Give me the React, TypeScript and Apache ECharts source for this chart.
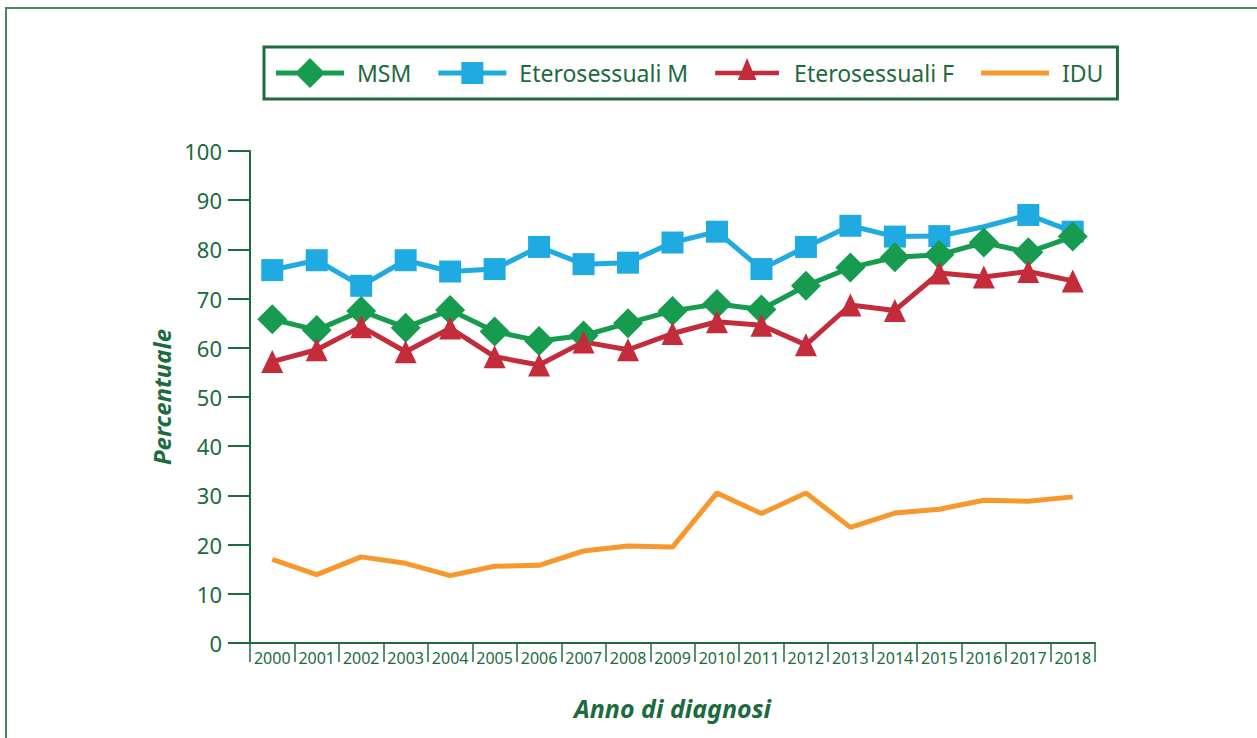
import React, { useEffect, useRef } from "react";
import * as echarts from "echarts";

const years = ["2000","2001","2002","2003","2004","2005","2006","2007","2008","2009","2010","2011","2012","2013","2014","2015","2016","2017","2018"];
const msm = [65.8, 63.6, 67.5, 64.1, 67.7, 63.3, 61.4, 62.5, 65.0, 67.5, 68.9, 67.8, 72.6, 76.3, 78.4, 78.9, 81.4, 79.4, 82.6];
const eteroM = [75.8, 77.8, 72.6, 77.8, 75.5, 76.0, 80.5, 77.0, 77.3, 81.4, 83.6, 76.0, 80.5, 84.8, 82.6, 82.7, 84.6, 87.0, 83.6];
const eteroF = [57.2, 59.6, 64.3, 59.2, 64.0, 58.2, 56.5, 61.2, 59.6, 62.9, 65.3, 64.6, 60.6, 68.7, 67.6, 75.2, 74.4, 75.5, 73.6];
const idu = [17.0, 13.9, 17.5, 16.2, 13.7, 15.6, 15.8, 18.7, 19.7, 19.5, 30.5, 26.3, 30.5, 23.5, 26.4, 27.2, 29.0, 28.8, 29.7];
const noMarkerYearM = "2016";
const yTicks = { min: 0, max: 100, interval: 10 };

const GREEN_TEXT = "#1b6b3d";
const C_MSM = "#169b4f";
const C_M = "#1fabe2";
const C_F = "#c42b3b";
const C_IDU = "#f7982f";
const FONT = "'Noto Sans', sans-serif";

// legend icons: line + marker
const ICON_MSM = "path://M0,12.5L21.5,12.5L34,0L46.5,12.5L68,12.5L68,17.5L46.5,17.5L34,30L21.5,17.5L0,17.5Z";
const ICON_M = "path://M0,12.5L23,12.5L23,4L45,4L45,12.5L68,12.5L68,17.5L45,17.5L45,26L23,26L23,17.5L0,17.5Z";
const ICON_F = "path://M0,12.5L28.3,12.5L34,-1L39.7,12.5L68,12.5L68,17.5L41.8,17.5L44,22.5L24,22.5L26.2,17.5L0,17.5Z M34,30.9L34.05,31L33.95,31Z";
const ICON_IDU = "path://M0,12.5L68,12.5L68,17.5L0,17.5Z";

export default function App() {
  const ref = useRef<HTMLDivElement>(null);
  useEffect(() => {
    if (!ref.current) return;
    const chart = echarts.init(ref.current, null, { renderer: "svg" });
    const eteroMData = eteroM.map((v, i) =>
      years[i] === noMarkerYearM ? { value: v, symbol: "none" } : v
    );
    chart.setOption({
      animation: false,
      backgroundColor: "#ffffff",
      graphic: [
        {
          type: "rect",
          shape: { x: 6, y: 8, width: 1300, height: 800 },
          style: { fill: "none", stroke: "#4f8662", lineWidth: 2 },
          silent: true,
        },
      ],
      legend: {
        left: 264,
        top: 47,
        data: [
          { name: "MSM", icon: ICON_MSM },
          { name: "Eterosessuali M", icon: ICON_M },
          { name: "Eterosessuali F", icon: ICON_F },
          { name: "IDU", icon: ICON_IDU },
        ],
        borderColor: "#1e6b3c",
        borderWidth: 3,
        padding: [11, 14, 11, 12],
        itemGap: 27,
        itemWidth: 68,
        itemHeight: 30,
        textStyle: { fontFamily: FONT, fontSize: 23, color: GREEN_TEXT, padding: [0, 0, 0, 8] },
      },
      grid: { left: 250, right: 162, top: 151, bottom: 95, containLabel: false },
      xAxis: {
        type: "category",
        data: years,
        boundaryGap: true,
        name: "Anno di diagnosi",
        nameLocation: "middle",
        nameGap: 52,
        nameTextStyle: { fontFamily: FONT, fontSize: 25, fontWeight: "bold", fontStyle: "italic", color: GREEN_TEXT },
        axisLine: { lineStyle: { color: "#1f6b3f", width: 2 } },
        axisTick: { show: true, interval: 0, length: 19, lineStyle: { color: "#1f6b3f", width: 1.5 } },
        axisLabel: { interval: 0, margin: 7, fontFamily: FONT, fontSize: 16, color: GREEN_TEXT },
        splitLine: { show: false },
      },
      yAxis: {
        type: "value",
        min: yTicks.min,
        max: yTicks.max,
        interval: yTicks.interval,
        name: "Percentuale",
        nameLocation: "middle",
        nameGap: 62,
        nameTextStyle: { fontFamily: FONT, fontSize: 24, fontWeight: "bold", fontStyle: "italic", color: GREEN_TEXT },
        axisLine: { show: true, lineStyle: { color: "#1f6b3f", width: 2 } },
        axisTick: { show: true, length: 22, lineStyle: { color: "#1f6b3f", width: 2 } },
        axisLabel: { margin: 28, fontFamily: FONT, fontSize: 22, color: GREEN_TEXT },
        splitLine: { show: false },
      },
      series: [
        {
          name: "Eterosessuali M",
          type: "line",
          data: eteroMData,
          symbol: "rect",
          symbolSize: 22,
          showAllSymbol: true,
          lineStyle: { color: C_M, width: 5 },
          itemStyle: { color: C_M },
        },
        {
          name: "MSM",
          type: "line",
          data: msm,
          symbol: "diamond",
          symbolSize: 30,
          showAllSymbol: true,
          lineStyle: { color: C_MSM, width: 5 },
          itemStyle: { color: C_MSM },
        },
        {
          name: "Eterosessuali F",
          type: "line",
          data: eteroF,
          symbol: "triangle",
          symbolSize: [22, 23],
          showAllSymbol: true,
          lineStyle: { color: C_F, width: 5 },
          itemStyle: { color: C_F },
        },
        {
          name: "IDU",
          type: "line",
          data: idu,
          symbol: "none",
          lineStyle: { color: C_IDU, width: 5 },
          itemStyle: { color: C_IDU },
        },
      ],
    });
    return () => chart.dispose();
  }, []);
  return (
    <div
      ref={ref}
      style={{ position: "fixed", left: 0, top: 0, width: 1257, height: 738, background: "#fff" }}
    />
  );
}
